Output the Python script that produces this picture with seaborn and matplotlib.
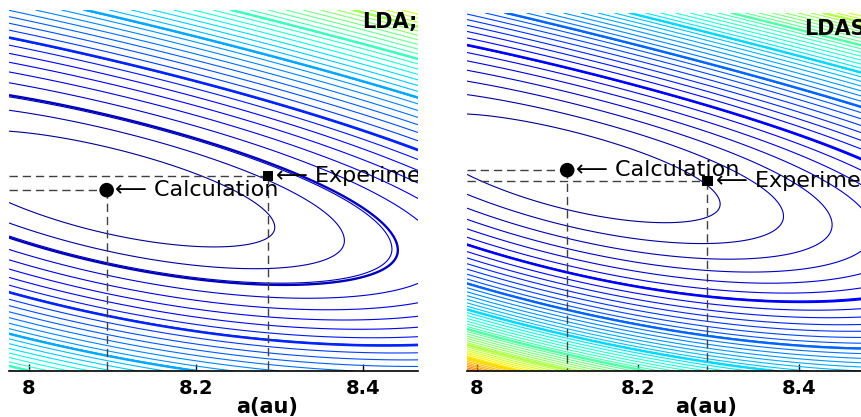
import matplotlib

matplotlib.use("Agg", force=True)
import numpy as np  # noqa: E402
import pandas as pd  # noqa: E402
import seaborn as sns  # noqa: E402
from matplotlib import pyplot as plt  # noqa: E402
from matplotlib.colors import Normalize  # noqa: E402

# axis content
A_TICKS = [8.0, 8.2, 8.4]
A_TICK_LABELS = ["8", "8.2", "8.4"]
A_LIMITS = [(7.976, 8.466), (7.9876, 8.478)]
PANEL_TAGS = ["LDA;", "LDAS"]
X_LABEL = "a(au)"

# marked points (y is the unlabelled vertical axis, 0..1)
CALC_A = [8.093, 8.112]
CALC_Y = [0.501, 0.561]
EXP_A = [8.286, 8.286]
EXP_Y = [0.540, 0.531]

# energy surface (panel-normalised coords)
VALLEY_V0 = [0.435, 0.366]
VALLEY_K1 = [0.29, 0.30]
VALLEY_K2 = [-0.05, -0.06]
ALONG_CURV = [5.92, 6.67]
ACROSS_W_UP = [0.122, 0.1124]
ACROSS_W_DN = [0.122, 0.1124]
ACROSS_W_DN_SLOPE = [-0.012, -0.005]
STEEP_UP = [0.0, 0.3]
STEEP_DN = [0.2, 2.2]
STEEP_DN_POWER = [1, 3]
LEVEL_MAX = [80, 90]
THICK_LEVELS = [[3, 9, 16, 23, 30, 37], [7, 14, 21, 28, 35, 42]]
DOUBLE_GAP = 0.12
COLOR_TOP = [55, 62]

AXES_BOXES = [
    (9 / 862, 46 / 417, 409 / 862, 361 / 417),
    (467 / 862, 46 / 417, 395 / 862, 358 / 417),
]
LABEL_X = [0.631, 0.605]


def energy(a, y, i):
    lo, hi = A_LIMITS[i]
    u = (a - lo) / (hi - lo)
    v = 1.0 - y
    u_min = (CALC_A[i] - lo) / (hi - lo)
    mid = VALLEY_V0[i] + VALLEY_K1[i] * u + VALLEY_K2[i] * u**2
    t = v - mid
    w = np.where(t < 0, ACROSS_W_UP[i], ACROSS_W_DN[i] + ACROSS_W_DN_SLOPE[i] * u)
    below = np.clip(t, 0, None)
    steep = np.where(t < 0, 1 + STEEP_UP[i] * (-t),
                     1 + STEEP_DN[i] * below ** STEEP_DN_POWER[i])
    return ALONG_CURV[i] * (u - u_min) ** 2 + (t / w) ** 2 * steep


sns.set_style("white")
plt.rcParams["font.family"] = ["DejaVu Sans"]
plt.rcParams["text.color"] = "black"
plt.rcParams["axes.labelcolor"] = "black"
plt.rcParams["xtick.color"] = "black"

fig = plt.figure(figsize=(8.62, 4.17), dpi=100)

for i in range(2):
    ax = fig.add_axes(AXES_BOXES[i])
    lo, hi = A_LIMITS[i]
    a_grid, y_grid = np.meshgrid(np.linspace(lo, hi, 500), np.linspace(0, 1, 500))
    surf = energy(a_grid, y_grid, i)
    norm = Normalize(0, COLOR_TOP[i])

    thin = [lv for lv in range(1, LEVEL_MAX[i]) if lv not in THICK_LEVELS[i]]
    thin += [lv - DOUBLE_GAP for lv in THICK_LEVELS[i]]
    ax.contour(a_grid, y_grid, surf, levels=sorted(thin), cmap="jet", norm=norm,
               linewidths=0.8)
    ax.contour(a_grid, y_grid, surf, levels=THICK_LEVELS[i], cmap="jet",
               norm=norm, linewidths=1.7)

    guide = dict(color="0.25", lw=1.0, ls=(0, (6, 3.5)), zorder=3)
    for pa, py in ((CALC_A[i], CALC_Y[i]), (EXP_A[i], EXP_Y[i])):
        ax.plot([lo, pa], [py, py], **guide)
        ax.plot([pa, pa], [py, 0], **guide)

    pts = pd.DataFrame({"a": [CALC_A[i], EXP_A[i]], "y": [CALC_Y[i], EXP_Y[i]],
                        "kind": ["Calculation", "Experiment"]})
    sns.scatterplot(data=pts, x="a", y="y", style="kind",
                    markers={"Calculation": "o", "Experiment": "s"},
                    size="kind", sizes={"Calculation": 110, "Experiment": 55},
                    color="black", edgecolor="black", linewidth=0,
                    legend=False, zorder=4, ax=ax)

    for pa, py, label in zip(pts["a"], pts["y"], pts["kind"]):
        ax.annotate("\u27f5 " + label, xy=(pa, py), xytext=(6, 0),
                    textcoords="offset points", ha="left", va="center",
                    fontsize=16, color="black", zorder=5,
                    annotation_clip=False, clip_on=True)

    tag = ax.text(1.01 if i else 0.998, 0.967 if i == 0 else 0.954, PANEL_TAGS[i],
                  transform=ax.transAxes, ha="right", va="center",
                  fontsize=15, fontweight="bold", color="black", zorder=5)
    tag.set_clip_on(True)

    ax.set_xlim(lo, hi)
    ax.set_ylim(0, 1)
    ax.set_xticks(A_TICKS)
    ax.set_xticklabels(A_TICK_LABELS, fontsize=14, fontweight="bold")
    ax.set_yticks([])
    ax.tick_params(axis="x", direction="in", length=5, width=1, pad=6,
                   bottom=True, colors="black")
    ax.set_xlabel(X_LABEL, fontsize=15, fontweight="bold")
    ax.xaxis.set_label_coords(LABEL_X[i], -0.072)
    for side in ("left", "top", "right"):
        ax.spines[side].set_visible(False)
    ax.spines["bottom"].set_color("black")
    ax.spines["bottom"].set_linewidth(1.2)
    ax.set_ylabel("")

fig.savefig("out.png", dpi=100)
plt.close(fig)
